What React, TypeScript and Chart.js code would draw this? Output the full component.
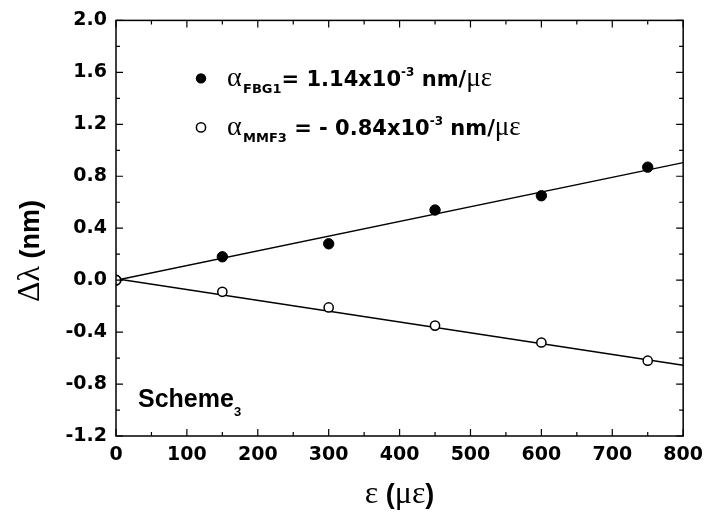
import React, { useEffect, useRef } from "react";
import { Chart, registerables } from "chart.js";

Chart.register(...registerables);

// ---- data ----
const strain = [0, 150, 300, 450, 600, 750];
const fbg1Shift = [0.0, 0.18, 0.28, 0.54, 0.65, 0.87];
const mmf3Shift = [0.0, -0.09, -0.21, -0.35, -0.48, -0.62];
const fitX = [0, 800];
const fbg1Fit = [0.0, 0.905];
const mmf3Fit = [0.01, -0.655];
const xTicks = [0, 100, 200, 300, 400, 500, 600, 700, 800];
const yTicks = [-1.2, -0.8, -0.4, 0.0, 0.4, 0.8, 1.2, 1.6, 2.0];
const xMinorTicks = [50, 150, 250, 350, 450, 550, 650, 750];
const yMinorTicks = [-1.0, -0.6, -0.2, 0.2, 0.6, 1.0, 1.4, 1.8];

const TICK_FONT = { family: "'DejaVu Sans'", size: 19, weight: "bold" as const };
const SANS_B = (s: number) => `bold ${s}px 'DejaVu Sans'`;
const ARIAL_B = (s: number) => `bold ${s}px 'Liberation Sans'`;
const SERIF = (s: number) => `${s}px 'Liberation Serif'`;

type Run = { t: string; font: string; dy?: number };

function runsWidth(ctx: CanvasRenderingContext2D, runs: Run[]) {
  let w = 0;
  for (const r of runs) {
    ctx.font = r.font;
    w += ctx.measureText(r.t).width;
  }
  return w;
}

function drawRuns(ctx: CanvasRenderingContext2D, x: number, y: number, runs: Run[]) {
  let cx = x;
  for (const r of runs) {
    ctx.font = r.font;
    ctx.fillText(r.t, cx, y + (r.dy || 0));
    cx += ctx.measureText(r.t).width;
  }
  return cx;
}

const clipPlugin = {
  id: "areaClip",
  beforeDatasetsDraw(chart: any) {
    const { ctx, chartArea } = chart;
    ctx.save();
    ctx.beginPath();
    ctx.rect(chartArea.left, chartArea.top, chartArea.right - chartArea.left, chartArea.bottom - chartArea.top);
    ctx.clip();
  },
  afterDatasetsDraw(chart: any) {
    chart.ctx.restore();
  },
};

const decorPlugin = {
  id: "decor",
  afterDraw(chart: any) {
    const { ctx, chartArea } = chart;
    const { left, right, top, bottom } = chartArea;
    const xs = chart.scales.x;
    const ys = chart.scales.y;
    ctx.save();
    ctx.strokeStyle = "#000";
    ctx.fillStyle = "#000";
    ctx.lineWidth = 1.5;
    ctx.strokeRect(left, top, right - left, bottom - top);

    ctx.lineWidth = 1.2;
    ctx.beginPath();
    const tickX = (v: number, len: number) => {
      const px = xs.getPixelForValue(v);
      ctx.moveTo(px, bottom);
      ctx.lineTo(px, bottom - len);
      ctx.moveTo(px, top);
      ctx.lineTo(px, top + len);
    };
    const tickY = (v: number, len: number) => {
      const py = ys.getPixelForValue(v);
      ctx.moveTo(left, py);
      ctx.lineTo(left + len, py);
      ctx.moveTo(right, py);
      ctx.lineTo(right - len, py);
    };
    xTicks.forEach((v) => tickX(v, 7));
    xMinorTicks.forEach((v) => tickX(v, 4));
    yTicks.forEach((v) => tickY(v, 7));
    yMinorTicks.forEach((v) => tickY(v, 4));
    ctx.stroke();

    // legend
    ctx.textBaseline = "alphabetic";
    ctx.textAlign = "left";
    const lx = left + 85;
    const row1 = top + 58;
    const row2 = top + 107;
    ctx.beginPath();
    ctx.arc(lx, row1, 5.2, 0, Math.PI * 2);
    ctx.fill();
    ctx.beginPath();
    ctx.arc(lx, row2, 4.6, 0, Math.PI * 2);
    ctx.fillStyle = "#fff";
    ctx.fill();
    ctx.lineWidth = 1.5;
    ctx.stroke();
    ctx.fillStyle = "#000";

    drawRuns(ctx, lx + 26, row1 + 8, [
      { t: "α", font: SERIF(28) },
      { t: " ", font: SANS_B(4) },
      { t: "FBG1", font: SANS_B(13), dy: 7 },
      { t: "= 1.14x10", font: SANS_B(21) },
      { t: "-3", font: SANS_B(12), dy: -10 },
      { t: " nm/", font: SANS_B(21) },
      { t: "με", font: SERIF(27) },
    ]);
    drawRuns(ctx, lx + 26, row2 + 8, [
      { t: "α", font: SERIF(28) },
      { t: " ", font: SANS_B(4) },
      { t: "MMF3", font: SANS_B(13), dy: 7 },
      { t: " = - 0.84x10", font: SANS_B(21) },
      { t: "-3", font: SANS_B(12), dy: -10 },
      { t: " nm/", font: SANS_B(21) },
      { t: "με", font: SERIF(27) },
    ]);

    // scheme label
    drawRuns(ctx, left + 22, bottom - 29, [
      { t: "Scheme", font: ARIAL_B(25) },
      { t: "3", font: ARIAL_B(13), dy: 9 },
    ]);

    // x title
    const xRuns: Run[] = [
      { t: "ε", font: SERIF(32) },
      { t: " (", font: ARIAL_B(27) },
      { t: "με", font: SERIF(32) },
      { t: ")", font: ARIAL_B(27) },
    ];
    const xw = runsWidth(ctx, xRuns);
    drawRuns(ctx, (left + right) / 2 - xw / 2, 503, xRuns);

    // y title
    const yRuns: Run[] = [
      { t: "Δλ", font: SERIF(32) },
      { t: " (nm)", font: ARIAL_B(27) },
    ];
    const yw = runsWidth(ctx, yRuns);
    ctx.translate(29, 251);
    ctx.rotate(-Math.PI / 2);
    drawRuns(ctx, -yw / 2, 10, yRuns);
    ctx.restore();
  },
};

export default function App() {
  const ref = useRef<HTMLCanvasElement | null>(null);
  useEffect(() => {
    if (!ref.current) return;
    const chart = new Chart(ref.current, {
      type: "scatter",
      data: {
        datasets: [
          {
            label: "MMF3",
            data: strain.map((x, i) => ({ x, y: mmf3Shift[i] })),
            pointRadius: 4.6,
            pointBackgroundColor: "#fff",
            pointBorderColor: "#000",
            pointBorderWidth: 1.5,
            showLine: false,
            order: 0,
          },
          {
            label: "FBG1",
            data: strain.map((x, i) => ({ x, y: fbg1Shift[i] })),
            pointRadius: 5.2,
            pointBackgroundColor: "#000",
            pointBorderColor: "#000",
            pointBorderWidth: 1,
            showLine: false,
            order: 1,
          },
          {
            label: "FBG1 fit",
            data: fitX.map((x, i) => ({ x, y: fbg1Fit[i] })),
            showLine: true,
            pointRadius: 0,
            borderColor: "#000",
            borderWidth: 1.5,
            order: 2,
          },
          {
            label: "MMF3 fit",
            data: fitX.map((x, i) => ({ x, y: mmf3Fit[i] })),
            showLine: true,
            pointRadius: 0,
            borderColor: "#000",
            borderWidth: 1.5,
            order: 2,
          },
        ],
      },
      options: {
        responsive: false,
        maintainAspectRatio: false,
        devicePixelRatio: 1,
        animation: false,
        layout: { padding: { top: 20, right: 25, left: 0, bottom: 0 } },
        plugins: { legend: { display: false }, tooltip: { enabled: false } },
        scales: {
          x: {
            type: "linear",
            min: 0,
            max: 800,
            afterFit: (s: any) => {
              s.height = 82;
            },
            afterBuildTicks: (s: any) => {
              s.ticks = xTicks.map((v) => ({ value: v }));
            },
            ticks: {
              color: "#000",
              font: TICK_FONT,
              padding: 8,
              maxRotation: 0,
              autoSkip: false,
              callback: (v: any) => String(Math.round(Number(v))),
            },
            grid: { display: false, drawTicks: false },
            border: { display: false },
          },
          y: {
            type: "linear",
            min: -1.2,
            max: 2.0,
            afterFit: (s: any) => {
              s.width = 116;
            },
            afterBuildTicks: (s: any) => {
              s.ticks = yTicks.map((v) => ({ value: v }));
            },
            ticks: {
              color: "#000",
              font: TICK_FONT,
              padding: 9,
              autoSkip: false,
              callback: (v: any) => {
                const n = Number(v);
                return Math.abs(n) < 1e-9 ? "0.0" : n.toFixed(1);
              },
            },
            grid: { display: false, drawTicks: false },
            border: { display: false },
          },
        },
      },
      plugins: [clipPlugin, decorPlugin],
    });
    return () => chart.destroy();
  }, []);
  return (
    <div style={{ position: "absolute", left: 0, top: 0, width: 711, height: 518, background: "#fff" }}>
      <canvas ref={ref} width={711} height={518} style={{ display: "block" }} />
    </div>
  );
}
